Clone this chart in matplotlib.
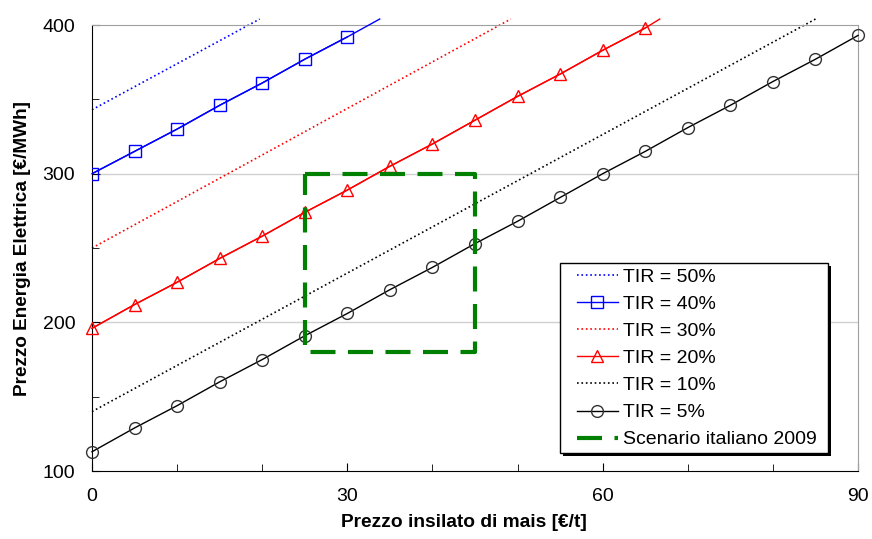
import matplotlib
matplotlib.use("Agg")
import matplotlib.pyplot as plt
from matplotlib.ticker import MultipleLocator
from matplotlib.patches import Rectangle

plt.rcParams['font.family'] = ['Liberation Sans', 'DejaVu Sans']

# prezzo insilato di mais [€/t]
x_mark = [0, 5, 10, 15, 20, 25, 30, 35, 40, 45, 50, 55, 60, 65, 70, 75, 80, 85, 90]

# TIR = 5%
tir5 = [113, 129, 144, 160, 175, 191, 206, 222, 237, 253, 268, 284, 300, 315, 331, 346, 362, 377, 393]
# TIR = 10% (solo linea)
tir10_x = [0, 85]
tir10_y = [140, 404]
# TIR = 20%
tir20 = [196, 212, 227, 243, 258, 274, 289, 305, 320, 336, 352, 367, 383, 398]
tir20_end = (66.7, 404)
# TIR = 30% (solo linea)
tir30_x = [0, 49.2]
tir30_y = [250, 404]
# TIR = 40%
tir40 = [300, 315, 330, 346, 361, 377, 392]
tir40_end = (33.8, 404)
# TIR = 50% (solo linea)
tir50_x = [0, 19.7]
tir50_y = [343, 404]

# scenario italiano 2009
scen_x = [25, 45, 45, 25, 25]
scen_y = [300, 300, 180, 180, 300]

fig = plt.figure(figsize=(8.72, 5.39), dpi=100)
ax = fig.add_axes([0.1055, 0.126, 0.8785, 0.8276])

ax.axhline(200, color='#d0d0d0', lw=1, zorder=0)
ax.axhline(300, color='#d0d0d0', lw=1, zorder=0)

ax.plot(tir50_x, tir50_y, color='blue', ls=':', lw=1.2, clip_on=False, label='TIR = 50%')
ax.plot(x_mark[:len(tir40)] + [tir40_end[0]], tir40 + [tir40_end[1]], color='blue', lw=1,
        clip_on=False, zorder=3)
ax.plot(x_mark[:len(tir40)], tir40, color='blue', lw=1, marker='s', ms=8, mfc='none',
        mec='blue', label='TIR = 40%', zorder=4)
ax.plot(tir30_x, tir30_y, color='red', ls=':', lw=1.2, clip_on=False, label='TIR = 30%')
ax.plot(x_mark[:len(tir20)] + [tir20_end[0]], tir20 + [tir20_end[1]], color='red', lw=1,
        clip_on=False, zorder=3)
ax.plot(x_mark[:len(tir20)], tir20, color='red', lw=1, marker='^', ms=9, mfc='none',
        mec='red', label='TIR = 20%', zorder=4, clip_on=False)
ax.plot(tir10_x, tir10_y, color='black', ls=':', lw=1.2, clip_on=False, label='TIR = 10%')
ax.plot(x_mark, tir5, color='black', lw=1, marker='o', ms=8.5, mfc='none', mec='#333333',
        label='TIR = 5%', zorder=4, clip_on=False)
ax.plot(scen_x, scen_y, color='green', lw=3, ls=(0, (6, 3)),
        label='Scenario italiano 2009', zorder=5)

ax.set_xlim(0, 90)
ax.set_ylim(100, 400)
ax.xaxis.set_major_locator(MultipleLocator(30))
ax.xaxis.set_minor_locator(MultipleLocator(10))
ax.yaxis.set_major_locator(MultipleLocator(100))
ax.yaxis.set_minor_locator(MultipleLocator(50))
ax.tick_params(which='both', direction='in', labelsize=14, top=False, right=False)
ax.tick_params(which='major', length=6)
ax.tick_params(which='minor', length=5)
ax.tick_params(axis='x', pad=12)
ax.tick_params(axis='y', pad=12)
for s in ['top', 'right']:
    ax.spines[s].set_color('#a0a0a0')

ax.set_xlabel('Prezzo insilato di mais [€/t]', fontsize=13.8, fontweight='bold')
ax.xaxis.set_label_coords(0.4856, -0.096)
ax.set_ylabel('Prezzo Energia Elettrica [€/MWh]', fontsize=13.7, fontweight='bold', labelpad=8)

# riquadro della legenda con ombra
ax.add_patch(Rectangle((563 / 872, 1 - 456 / 539), 268 / 872, 190 / 539,
                       transform=fig.transFigure, facecolor='black', edgecolor='none',
                       zorder=8, clip_on=False))
ax.add_patch(Rectangle((560 / 872, 1 - 453 / 539), 268 / 872, 190 / 539,
                       transform=fig.transFigure, facecolor='white', edgecolor='black',
                       lw=1, zorder=9, clip_on=False))

leg = ax.legend(loc='upper left', bbox_to_anchor=(577 / 872, 1 - 268 / 539),
                bbox_transform=fig.transFigure, fontsize=14, frameon=False,
                handlelength=2.1, labelspacing=0.49, borderpad=0, borderaxespad=0,
                handletextpad=0.26)
leg.set_zorder(10)

fig.savefig('out.png', dpi=100)
